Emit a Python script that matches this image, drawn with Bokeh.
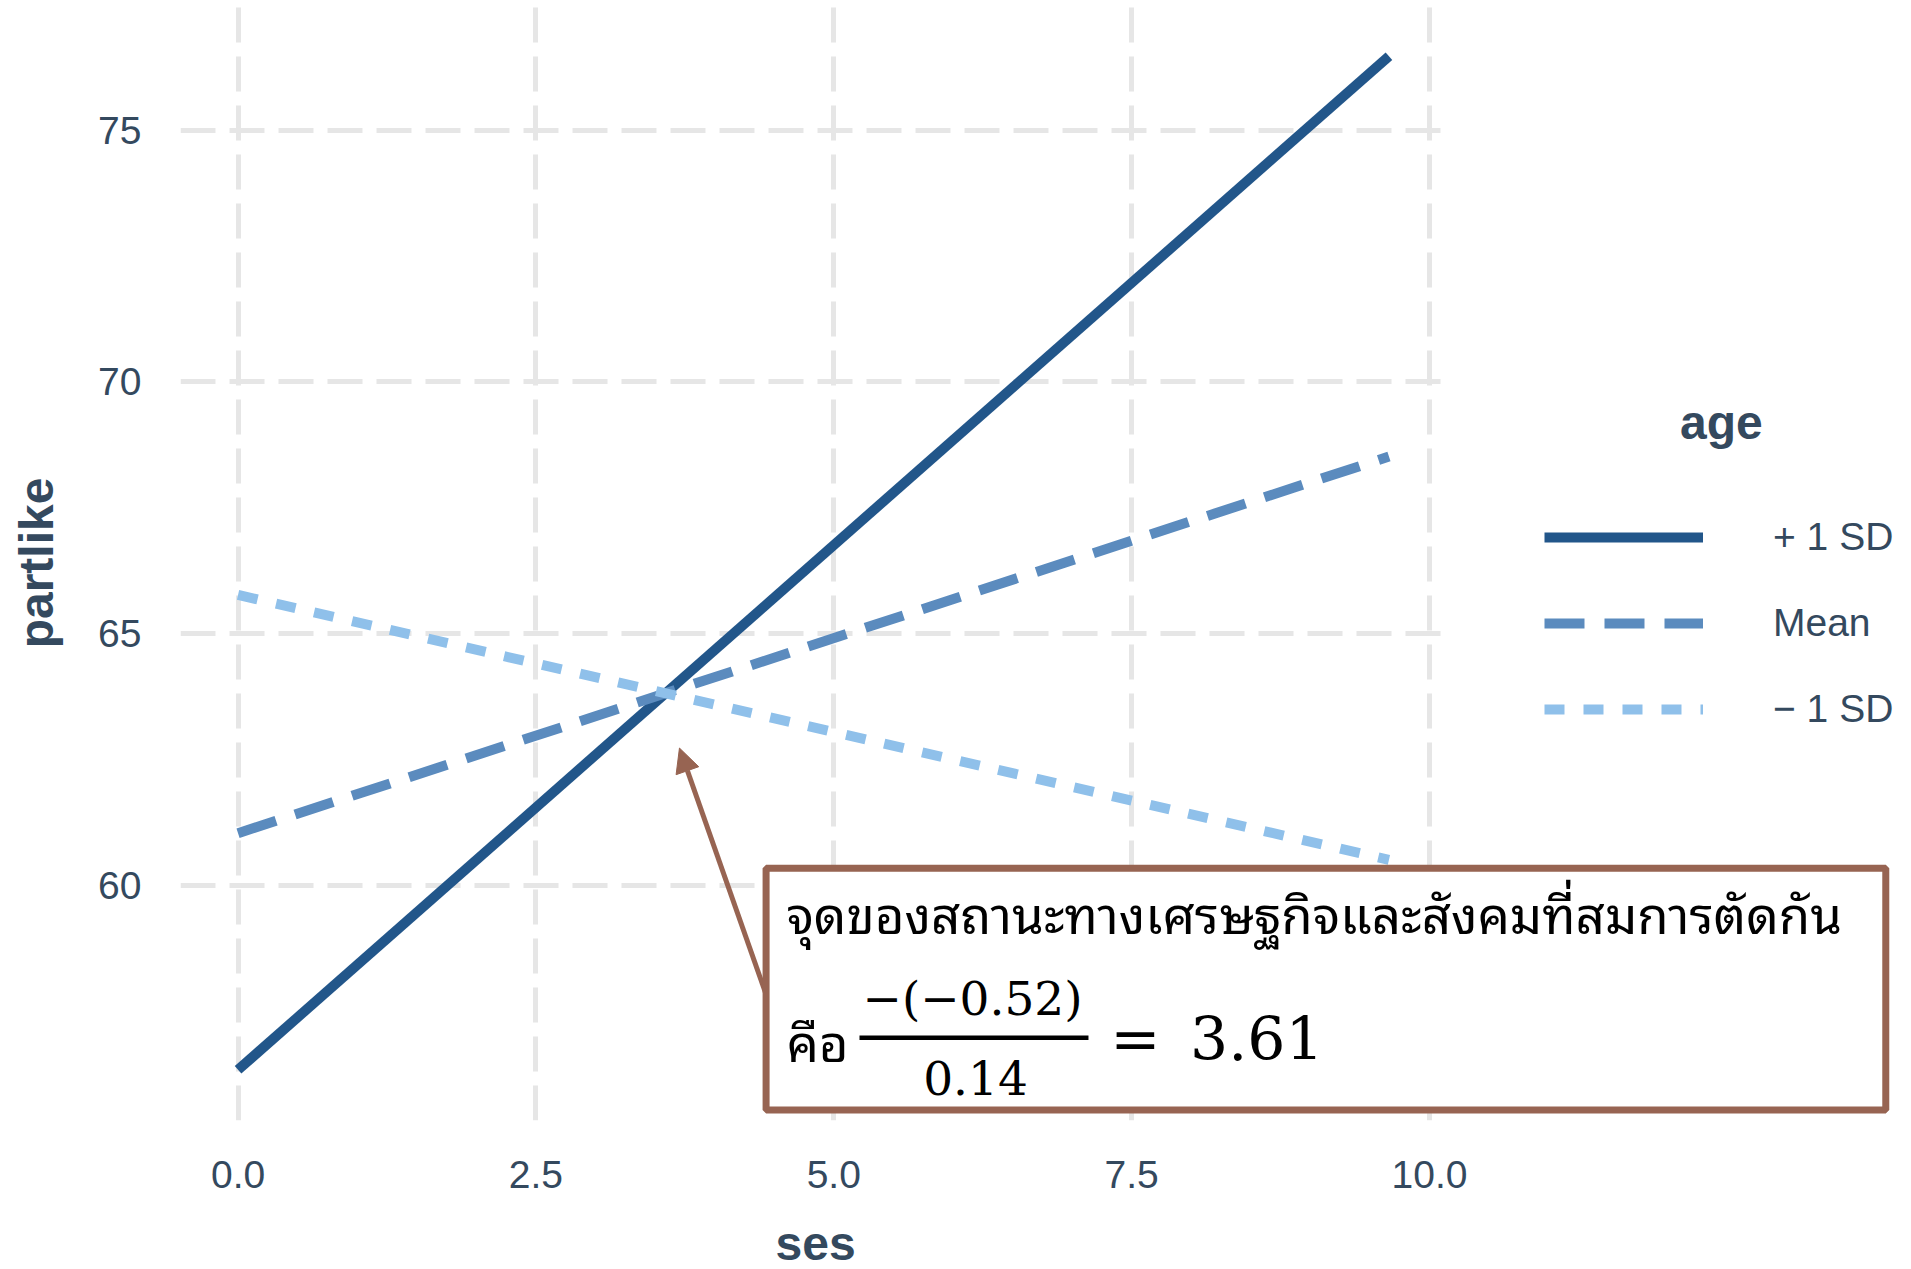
from bokeh.plotting import figure
from bokeh.models import (Range1d, FixedTicker, Legend, LegendItem, Label, Title,
                          BoxAnnotation, Arrow, NormalHead, PrintfTickFormatter)
from bokeh.embed import file_html
from bokeh.resources import INLINE

# ---------------- data ----------------
ses = [0.0, 9.66]
partlike_plus_sd = [56.34, 76.47]
partlike_mean = [61.04, 68.52]
partlike_minus_sd = [65.77, 60.51]
series_names = ["+ 1 SD", "Mean", "\u2212 1 SD"]

x_ticks = [0.0, 2.5, 5.0, 7.5, 10.0]
x_tick_labels = ["0.0", "2.5", "5.0", "7.5", "10.0"]
y_ticks = [60, 65, 70, 75]
y_tick_labels = ["60", "65", "70", "75"]

x_title = "ses"
y_title = "partlike"
legend_title = "age"

note_line1 = "จุดของสถานะทางเศรษฐกิจและสังคมที่สมการตัดกัน"
note_prefix = "คือ"
note_numerator = "\u2212(\u22120.52)"
note_denominator = "0.14"
note_equals = "="
note_result = "3.61"

# ---------------- style ----------------
TEXT = "#34495E"
C_PLUS = "#22568A"
C_MEAN = "#5B8BBE"
C_MINUS = "#8FC0EA"
BROWN = "#976452"
GRID = "#E6E6E6"
SANS = "Liberation Sans"
SERIF = "DejaVu Serif"
THAI = "Noto Sans Thai Looped, Noto Serif Thai, Noto Sans Thai, sans-serif"

W, H = 1911, 1269
LEFT, PANEL_W, TOP, BOTTOM = 180, 1266, 5, 148

# ggplot-like 5% expansion of data ranges
xmin, xmax = min(ses), max(ses)
all_y = partlike_plus_sd + partlike_mean + partlike_minus_sd
ymin, ymax = min(all_y), max(all_y)
xpad = 0.05 * (xmax - xmin)
ypad = 0.05 * (ymax - ymin)
x_lo, x_panel_hi = xmin - xpad, xmax + xpad
# the frame is widened to the right edge so legend/annotation are not clipped
x_hi = x_lo + (x_panel_hi - x_lo) * (W - LEFT) / PANEL_W

p = figure(width=W, height=H, output_backend="svg", toolbar_location=None,
           x_range=Range1d(x_lo, x_hi),
           y_range=Range1d(ymin - ypad, ymax + ypad),
           min_border_left=LEFT, min_border_right=0,
           min_border_top=TOP, min_border_bottom=BOTTOM)
p.background_fill_color = "white"
p.border_fill_color = "white"
p.outline_line_color = None

# axes
for ax, ticks, labels in ((p.xaxis[0], x_ticks, x_tick_labels), (p.yaxis[0], y_ticks, y_tick_labels)):
    ax.ticker = FixedTicker(ticks=ticks)
    ax.major_label_overrides = {t: l for t, l in zip(ticks, labels)}
    ax.axis_line_color = None
    ax.major_tick_line_color = None
    ax.minor_tick_line_color = None
    ax.major_label_text_font = SANS
    ax.major_label_text_font_size = "39px"
    ax.major_label_text_color = TEXT
    ax.axis_label_text_font = SANS
    ax.axis_label_text_font_size = "48px"
    ax.axis_label_text_font_style = "bold"
    ax.axis_label_text_color = TEXT
p.xaxis[0].formatter = PrintfTickFormatter(format="%.1f")
p.yaxis[0].axis_label = y_title
p.xaxis[0].major_label_standoff = 34
p.yaxis[0].major_label_standoff = 33
p.yaxis[0].axis_label_standoff = 32

# x title placed under the centre of the data panel (not the widened frame)
ses_title = Title(text=x_title, align="left", offset=595, vertical_align="bottom",
                  text_font=SANS, text_font_size="48px", text_font_style="bold",
                  text_color=TEXT, standoff=0)
for pad in (dict(left=0, right=0, top=24, bottom=0), (24, 0, 0, 0)):
    try:
        ses_title.padding = pad
        break
    except Exception:
        pass
p.add_layout(ses_title, "below")

# grid
p.xgrid.ticker = FixedTicker(ticks=x_ticks)
p.ygrid.ticker = FixedTicker(ticks=y_ticks)
for g in (p.xgrid[0], p.ygrid[0]):
    g.grid_line_color = GRID
    g.grid_line_width = 5
    g.grid_line_dash = "35 14"
    g.minor_grid_line_color = None

# white cover: the grid stops at the panel's right edge
p.add_layout(BoxAnnotation(left=x_panel_hi, fill_color="white", fill_alpha=1.0,
                           line_alpha=0, level="glyph"))

# lines
r1 = p.line(ses, partlike_plus_sd, line_color=C_PLUS, line_width=10)
r2 = p.line(ses, partlike_mean, line_color=C_MEAN, line_width=10, line_dash="40 20")
r3 = p.line(ses, partlike_minus_sd, line_color=C_MINUS, line_width=10, line_dash="20 19")

legend = Legend(items=[LegendItem(label=series_names[0], renderers=[r1]),
                       LegendItem(label=series_names[1], renderers=[r2]),
                       LegendItem(label=series_names[2], renderers=[r3])],
                location=(1354, 358), orientation="vertical",
                glyph_width=159, glyph_height=86, spacing=0, padding=10, margin=0,
                label_standoff=70, label_text_font=SANS, label_text_font_size="39px",
                label_text_color=TEXT, label_text_baseline="middle",
                background_fill_alpha=0, border_line_alpha=0)
p.add_layout(legend)

p.add_layout(Label(x=12.45, y=69.2, text=legend_title, text_align="center",
                   text_baseline="alphabetic", text_font=SANS, text_font_size="48px",
                   text_font_style="bold", text_color=TEXT))

# annotation: arrow + box + text
p.add_layout(Arrow(end=NormalHead(size=24, fill_color=BROWN, line_color=BROWN, line_width=1),
                   x_start=4.637, y_start=56.46, x_end=3.705, y_end=62.73,
                   line_color=BROWN, line_width=5))
p.add_layout(BoxAnnotation(left=4.432, right=13.83, top=60.344, bottom=55.54,
                           fill_color="white", fill_alpha=1.0,
                           line_color=BROWN, line_width=7, line_alpha=1.0))

p.add_layout(Label(x=4.603, y=59.5, text=note_line1, text_align="left",
                   text_baseline="alphabetic", text_font=THAI, text_font_size="51px",
                   text_color="black"))
p.add_layout(Label(x=4.603, y=56.95, text=note_prefix, text_align="left",
                   text_baseline="alphabetic", text_font=THAI, text_font_size="51px",
                   text_color="black"))
p.add_layout(Label(x=6.165, y=57.75, text=note_numerator, text_align="center",
                   text_baseline="alphabetic", text_font=SERIF, text_font_size="47px",
                   text_color="black"))
p.add_layout(Arrow(end=None, start=None, x_start=5.216, y_start=56.975,
                   x_end=7.138, y_end=56.975, line_color="black", line_width=4.5))
p.add_layout(Label(x=6.19, y=56.17, text=note_denominator, text_align="center",
                   text_baseline="alphabetic", text_font=SERIF, text_font_size="47px",
                   text_color="black"))
p.add_layout(Label(x=7.32, y=56.97, text=note_equals, text_align="left",
                   text_baseline="alphabetic", text_font=SERIF, text_font_size="60px",
                   text_color="black"))
p.add_layout(Label(x=7.99, y=56.97, text=note_result, text_align="left",
                   text_baseline="alphabetic", text_font=SERIF, text_font_size="60px",
                   text_color="black"))

open("out.html", "w").write(file_html(p, INLINE))
